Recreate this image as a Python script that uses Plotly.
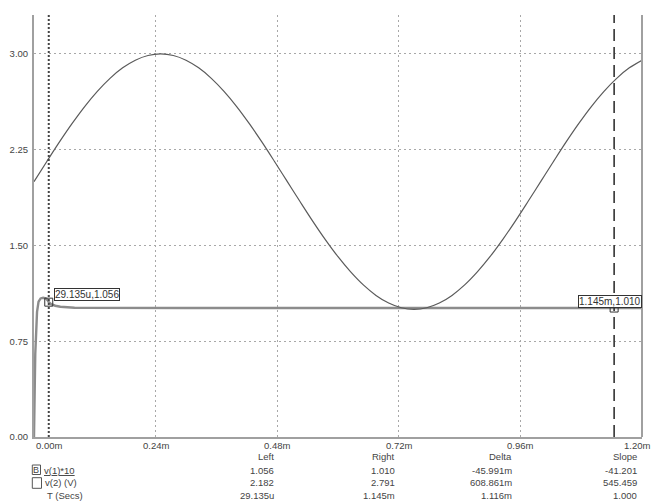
import plotly.graph_objects as go

# ---- data (time in ms) ----
t2_ms = [0.000, 0.025, 0.050, 0.075, 0.100, 0.125, 0.150, 0.175, 0.200, 0.225,
         0.250, 0.275, 0.300, 0.325, 0.350, 0.375, 0.400, 0.425, 0.450, 0.475,
         0.500, 0.525, 0.550, 0.575, 0.600, 0.625, 0.650, 0.675, 0.700, 0.725,
         0.750, 0.775, 0.800, 0.825, 0.850, 0.875, 0.900, 0.925, 0.950, 0.975,
         1.000, 1.025, 1.050, 1.075, 1.100, 1.125, 1.150, 1.175, 1.200]
v2 = [2.000, 2.156, 2.309, 2.454, 2.588, 2.707, 2.809, 2.891, 2.951, 2.988,
      3.000, 2.988, 2.951, 2.891, 2.809, 2.707, 2.588, 2.454, 2.309, 2.156,
      2.000, 1.844, 1.691, 1.546, 1.412, 1.293, 1.191, 1.109, 1.049, 1.012,
      1.000, 1.012, 1.049, 1.109, 1.191, 1.293, 1.412, 1.546, 1.691, 1.844,
      2.000, 2.156, 2.309, 2.454, 2.588, 2.707, 2.809, 2.891, 2.951]

t1_ms = [0.0, 0.0008, 0.0015, 0.0025, 0.0040, 0.0060, 0.0090, 0.0130, 0.0180,
         0.0230, 0.0270, 0.029135, 0.0340, 0.0420, 0.0520, 0.0650, 0.0800,
         0.1000, 0.1500, 0.3000, 0.5000, 0.7000, 0.9000, 1.1000, 1.2000]
v1 = [0.0, 0.12, 0.40, 0.65, 0.80, 0.98, 1.06, 1.085, 1.09,
      1.085, 1.07, 1.056, 1.040, 1.028, 1.020, 1.015, 1.012,
      1.011, 1.010, 1.010, 1.010, 1.010, 1.010, 1.010, 1.010]

cursor_left_ms = 0.029135
cursor_right_ms = 1.145
cursor_left_val = 1.056
cursor_right_val = 1.010
left_label = "29.135u,1.056"
right_label = "1.145m,1.010"

x_ticks_ms = [0.0, 0.24, 0.48, 0.72, 0.96, 1.20]
x_tick_labels = ["0.00m", "0.24m", "0.48m", "0.72m", "0.96m", "1.20m"]
y_ticks = [0.0, 0.75, 1.50, 2.25, 3.00]
y_tick_labels = ["0.00", "0.75", "1.50", "2.25", "3.00"]

table_cols = ["Left", "Right", "Delta", "Slope"]
row_names = ["v(1)*10", "v(2) (V)", "T (Secs)"]
row_v1 = ["1.056", "1.010", "-45.991m", "-41.201"]
row_v2 = ["2.182", "2.791", "608.861m", "545.459"]
row_t = ["29.135u", "1.145m", "1.116m", "1.000"]

# ---- layout geometry (pixels) ----
W, H = 653, 502
ML, MR, MT, MB = 34, 11, 15, 65
PW = W - ML - MR
PH = H - MT - MB
Y_MAX = 3.305

def px(x):
    return (x - ML) / PW

def py(y):
    return (H - MB - y) / PH

FONT = "Arial, Liberation Sans, sans-serif"
TXT = "#444444"
GRID = "#a8a8a8"
AXIS = "#a0a0a0"

fig = go.Figure()
fig.add_trace(go.Scatter(x=t1_ms, y=v1, mode="lines",
                         line=dict(color="#8c8c8c", width=2.4),
                         hoverinfo="skip", showlegend=False))
fig.add_trace(go.Scatter(x=t2_ms, y=v2, mode="lines", line_shape="spline",
                         line=dict(color="#5a5a5a", width=1.2),
                         hoverinfo="skip", showlegend=False))
fig.add_trace(go.Scatter(x=[cursor_left_ms, cursor_right_ms],
                         y=[cursor_left_val, cursor_right_val], mode="markers",
                         marker=dict(symbol="square-open", size=8, color="#333333",
                                     line=dict(width=1, color="#333333")),
                         hoverinfo="skip", showlegend=False))

shapes = []
# cursors
shapes.append(dict(type="line", xref="x", yref="paper", x0=cursor_left_ms, x1=cursor_left_ms,
                   y0=0, y1=1, line=dict(color="#444444", width=2, dash="2px,2px")))
shapes.append(dict(type="line", xref="x", yref="paper", x0=cursor_right_ms, x1=cursor_right_ms,
                   y0=0, y1=1, line=dict(color="#333333", width=1.6, dash="12px,6px")))
# right axis line
shapes.append(dict(type="line", xref="paper", yref="paper", x0=1, x1=1, y0=0, y1=1,
                   line=dict(color=AXIS, width=2)))
# legend boxes
shapes.append(dict(type="rect", xref="paper", yref="paper", x0=px(32.3), x1=px(40.5),
                   y0=py(474.5), y1=py(465), line=dict(color="#555555", width=1)))
shapes.append(dict(type="rect", xref="paper", yref="paper", x0=px(32.3), x1=px(41.5),
                   y0=py(488.3), y1=py(477.7), line=dict(color="#555555", width=1)))

ann = []
# x tick labels
n_ticks = len(x_ticks_ms)
for i, (xv, lab) in enumerate(zip(x_ticks_ms, x_tick_labels)):
    if i == 0:
        xa = "left"
        xref, xpos = "x", xv
    elif i == n_ticks - 1:
        xa = "right"
        xref, xpos = "paper", px(W - 1)
    else:
        xa = "center"
        xref, xpos = "x", xv
    ann.append(dict(x=xpos, y=0, xref=xref, yref="paper", text=lab, showarrow=False,
                    xanchor=xa, yanchor="middle",
                    yshift=-8, font=dict(family=FONT, size=9.5, color=TXT)))
# cursor labels
ann.append(dict(x=cursor_left_ms, y=cursor_left_val, xref="x", yref="y", text=left_label,
                showarrow=False, xanchor="left", yanchor="bottom", xshift=5, yshift=1,
                bgcolor="white", bordercolor="#333333", borderwidth=1, borderpad=0,
                font=dict(family=FONT, size=10, color="#333333")))
ann.append(dict(x=1, y=cursor_right_val, xref="paper", yref="y", text=right_label,
                showarrow=False, xanchor="right", yanchor="bottom", yshift=0,
                bgcolor="white", bordercolor="#333333", borderwidth=1, borderpad=0,
                font=dict(family=FONT, size=10, color="#333333")))
# table
col_right_px = [276, 397, 513.5, 638.5]
row_y_px = [456.7, 470, 482.7, 495]
rows = [table_cols, row_v1, row_v2, row_t]
for r, vals in enumerate(rows):
    for c, txt in enumerate(vals):
        ann.append(dict(x=px(col_right_px[c]), y=py(row_y_px[r]), xref="paper", yref="paper",
                        text=txt, showarrow=False, xanchor="right", yanchor="middle",
                        font=dict(family=FONT, size=9.5, color=TXT)))
# legend
ann.append(dict(x=px(36.4), y=py(469.8), xref="paper", yref="paper", text="B", showarrow=False,
                xanchor="center", yanchor="middle", font=dict(family=FONT, size=9, color=TXT)))
name_x_px = [41.5, 42.5, 45]
name_txt = ["<u>" + row_names[0] + "</u>", row_names[1], row_names[2]]
for i in range(3):
    ann.append(dict(x=px(name_x_px[i]), y=py(row_y_px[i + 1]), xref="paper", yref="paper",
                    text=name_txt[i], showarrow=False, xanchor="left", yanchor="middle",
                    font=dict(family=FONT, size=9.5, color=TXT)))

fig.update_layout(
    width=W, height=H, margin=dict(l=ML, r=MR, t=MT, b=MB, pad=0),
    paper_bgcolor="white", plot_bgcolor="white",
    shapes=shapes, annotations=ann, showlegend=False,
    xaxis=dict(range=[0, 1.2], tickvals=x_ticks_ms, showticklabels=False,
               showgrid=True, gridcolor=GRID, gridwidth=1, griddash="2px,3px",
               zeroline=False, showline=True, linecolor=AXIS, linewidth=2, ticks=""),
    yaxis=dict(range=[0, Y_MAX], tickvals=y_ticks, ticktext=y_tick_labels,
               showgrid=True, gridcolor=GRID, gridwidth=1, griddash="2px,3px",
               zeroline=False, showline=True, linecolor=AXIS, linewidth=2, ticks="",
               ticklabelstandoff=2,
               tickfont=dict(family=FONT, size=9.5, color=TXT)),
)

fig.write_html("out.html", config={"displayModeBar": False, "staticPlot": True},
               post_script="document.body.style.margin='0';document.body.style.overflow='hidden';")
